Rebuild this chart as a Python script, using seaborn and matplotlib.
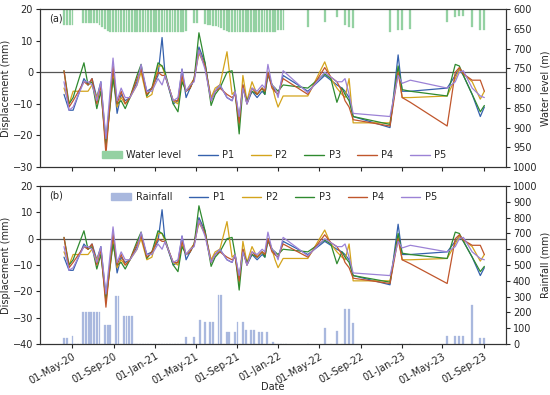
import numpy as np
import pandas as pd
import matplotlib
matplotlib.use("Agg")
import matplotlib.pyplot as plt
import matplotlib.dates as mdates
from matplotlib.lines import Line2D
from matplotlib.patches import Patch
import seaborn as sns

nan = np.nan

# sparse epochs after Jan 2022 (shared by bars and lines)
sparse_dates = ["2022-03-29", "2022-05-18", "2022-06-05", "2022-06-23", "2022-07-08",
                "2022-07-17", "2022-07-29", "2022-08-10", "2022-11-27", "2022-12-21",
                "2023-01-02", "2023-01-26", "2023-05-15", "2023-06-08", "2023-06-20",
                "2023-07-02", "2023-07-28", "2023-08-21", "2023-09-02"]

# displacement epochs
disp_dates = ["2020-04-07", "2020-04-22", "2020-05-04", "2020-06-05", "2020-06-17",
              "2020-06-29", "2020-07-13", "2020-07-25", "2020-08-09", "2020-08-30",
              "2020-09-11", "2020-09-23", "2020-10-05", "2020-10-19", "2020-11-09",
              "2020-11-21", "2020-12-08", "2020-12-23", "2021-01-10", "2021-01-22",
              "2021-01-31", "2021-02-24", "2021-03-10", "2021-03-22", "2021-04-03",
              "2021-04-15", "2021-04-27", "2021-05-11", "2021-05-29", "2021-06-16",
              "2021-06-28", "2021-07-12", "2021-08-02", "2021-08-17", "2021-08-26",
              "2021-09-07", "2021-09-18", "2021-09-30", "2021-10-15", "2021-10-30",
              "2021-11-14", "2021-11-22", "2021-12-01", "2021-12-13", "2021-12-22",
              "2021-12-31", "2022-01-15"] + sparse_dates

p1 = [-7, -12, -12, -2, -4, -2, -8, -3, -22, 0, -13, -7, -9, -8, -3, 1, -6, -5, -1, 11,
      -1, -10, -9, 1, -8, -5, -2, 8, 3, -9, -6, -4, -8, -9, -6, -15, -4, -10, -6, -8,
      -6, -7, -1, -4, -6, -7, -1,
      -6, -1, -2.5, -4, -5, -6, -8, -14, -17.5, 5.5, -6, -6, -5, -1, 1, -1, -7, -14, -11]
p2 = [-5, -10, -6, -6, -6, -4, -8, -4, -24, -1, -11, -8, -10, -8, -4, 0, -8, -7, 2, 2,
      -1, -9, -10, -2, -6, -4, -2, 6, 2, -8, -5, -4, 6.5, -7, -6, -17, -1, -9, -3, -7,
      -5, -6, 0, -4, -8, -11, -7.5,
      -7.5, 3.3, -2, -5, -7, -8, -2, -16, -16, 1, -8, -8, -7.5, -2, 1, -0.5, -3, -8.5, -6]
p3 = [0.5, -10, -8, 3, -4, -3, -11.5, -6, -23, -2, -10, -9, -11.5, -8, -1, 2.5, -7.5, -5, 3, 2,
      0, -10, -12.5, -3, -6, -5, -2, 12.5, 3, -10.5, -7, -5, 0, 0.5, -6, -19.5, -5, -9, -6, -7,
      -5, -7, 0, -4, -5, -6, -4,
      -5, -0.5, -2, -9.5, -5, -7, -9, -14, -16.5, 2, -5.5, -6, -7.5, 2.5, 2, -1, -7, -12.5, -10.5]
p4 = [0.5, -11, -9, -3, -4, -2, -10, -4, -26, 2, -10, -6, -10, -8, -2, 1, -7, -5, 0, -1,
      -1, -9, -9, -1, -6, -5, -2, 7, 2, -9, -6, -5, -7, -8, -7, -16, -4, -10, -5, -7,
      -5, -6, 0, -5, -6, -7, -2,
      -7, 1.5, -1.5, -3, -6, -9, -11, -15, -17, 0, -8, -9.5, -17, 0, 1.5, -0.5, -2.5, -2.5, -6]
p5 = [-3, -12, -11, -3, -3, -4, -9, -3, -21, 4.5, -9, -5, -8, -8, -4, 2.5, -6, -6, -2, -4,
      -1, -9, -8, 1, -6, -4, -3, 7, 1, -9, -6, -4, -8, -9, -6, -14, -5, -10, -5, -6,
      -4, -5, 2.5, -4, -5, -8, 0.5,
      -6.5, 0, -1.5, -3, -3, -2, -7, -13, -14, -1, -3.5, -2.5, -5, -3, 0, 0.5, -5, -7.5, -8]

# dense 8-day acquisition grid Apr 2020 - Jan 2022
dense_start = "2020-04-08"
dense_count = 83

water_level = [640, 640, 640, 640, nan, nan, nan, 636, 636, 636,
               636, 636, 636, 640, 645, 650, 655, 657, 657, 657,
               657, 657, 657, 657, 657, 657, 657, 657, 657, 657,
               657, 657, 657, 657, 657, 657, 657, 657, 657, 657,
               657, 657, 657, 657, 657, 655, nan, nan, 636, 636,
               nan, nan, 638, 640, 641, 642, 643, 646, 649, 652,
               655, 657, 657, 657, 657, 657, 657, 657, 657, 657,
               657, 657, 657, 657, 657, 657, 657, 657, 657, 653,
               653, 653, nan,
               645, 632, nan, 621, nan, 640, 645, 647, 657, 653,
               653, 651, 632, 619, 617, 617, 645, 653, 653]

rainfall = [40, 40, 0, 53, 0, 0, 0, 205, 205, 205,
            205, 205, 205, 205, 0, 118, 118, 118, 0, 304,
            304, 0, 179, 179, 179, 179, 0, 0, 0, 0,
            0, 0, 0, 0, 0, 0, 0, 0, 0, 0,
            0, 0, 0, 0, 0, 42, 0, 0, 42, 0,
            154, 0, 141, 0, 141, 141, 0, 310, 310, 0,
            74, 74, 0, 74, 137, 0, 137, 89, 0, 89,
            89, 0, 74, 74, 0, 74, 0, 15, 0, 0,
            0, 0, 0,
            0, 100, 0, 85, 0, 219, 219, 135, 0, 0,
            0, 0, 50, 52, 52, 52, 246, 40, 40]

points = ["P1", "P2", "P3", "P4", "P5"]
colors = {"P1": "#3561ad", "P2": "#d4a41c", "P3": "#2f8a2f", "P4": "#c0562c", "P5": "#9c82d6"}
water_color = "#94d1a2"
rain_color = "#a9b8de"

bar_dates = list(pd.date_range(dense_start, periods=dense_count, freq="8D")) + list(pd.to_datetime(sparse_dates))
bars = pd.DataFrame({"date": bar_dates, "water": water_level, "rain": rainfall})

disp = pd.DataFrame({"date": pd.to_datetime(disp_dates), "P1": p1, "P2": p2, "P3": p3, "P4": p4, "P5": p5})
disp_long = disp.melt(id_vars="date", var_name="point", value_name="disp")

sns.set_theme(style="ticks")
plt.rcParams["font.family"] = ["DejaVu Sans"]
fs = 7
plt.rcParams.update({"xtick.labelsize": fs, "ytick.labelsize": fs, "axes.labelsize": fs,
                     "axes.edgecolor": "#333333", "axes.linewidth": 0.8,
                     "xtick.major.size": 3, "ytick.major.size": 3,
                     "xtick.major.width": 0.8, "ytick.major.width": 0.8,
                     "xtick.major.pad": 2, "ytick.major.pad": 2})

fig, (ax_a, ax_b) = plt.subplots(2, 1, sharex=True, figsize=(5.5, 3.95), dpi=100)
fig.subplots_adjust(left=0.0727, right=0.92, top=0.977, bottom=0.129, hspace=0.12)

line_handles = [Line2D([], [], color=colors[p], lw=1.0) for p in points]

for ax, tag in [(ax_a, "a"), (ax_b, "b")]:
    twin = ax.twinx()
    if tag == "a":
        twin.bar(bars["date"], bars["water"] - 600, bottom=600, width=5.5, color=water_color,
                 edgecolor=water_color, linewidth=0.2)
        twin.set_ylim(1000, 600)
        twin.set_yticks(np.arange(600, 1001, 50))
        twin.set_ylabel("Water level (m)", fontsize=fs, labelpad=2)
    else:
        twin.bar(bars["date"], bars["rain"], width=5.5, color=rain_color,
                 edgecolor=rain_color, linewidth=0.2)
        twin.set_ylim(0, 1000)
        twin.set_yticks(np.arange(0, 1001, 100))
        twin.set_ylabel("Rainfall (mm)", fontsize=fs, labelpad=2)
    twin.tick_params(labelsize=fs)
    ax.set_zorder(twin.get_zorder() + 1)
    ax.patch.set_visible(False)

    sns.lineplot(data=disp_long, x="date", y="disp", hue="point", palette=colors,
                 lw=0.9, errorbar=None, legend=False, ax=ax)
    ax.axhline(0, color="#555555", lw=0.9, zorder=0)
    ax.set_ylabel("Displacement (mm)", fontsize=fs, labelpad=1)
    ax.set_xlabel("")
    ax.text(0.02, 0.94, f"({tag})", transform=ax.transAxes, fontsize=fs, va="center")

    if tag == "a":
        ax.set_ylim(-30, 20)
        ax.set_yticks(np.arange(-30, 21, 10))
        handles = [Patch(color=water_color)] + line_handles
        labels = ["Water level"] + points
        ax.legend(handles, labels, loc="center", bbox_to_anchor=(0.503, 0.075), ncol=6,
                  frameon=False, fontsize=fs, handlelength=2.0, handletextpad=0.5,
                  columnspacing=1.7)
    else:
        ax.set_ylim(-40, 20)
        ax.set_yticks(np.arange(-40, 21, 10))
        handles = [Patch(color=rain_color)] + line_handles
        labels = ["Rainfall"] + points
        ax.legend(handles, labels, loc="center", bbox_to_anchor=(0.503, 0.93), ncol=6,
                  frameon=False, fontsize=fs, handlelength=2.0, handletextpad=0.5,
                  columnspacing=1.7)

ax_b.set_xlim(pd.Timestamp("2020-01-27"), pd.Timestamp("2023-11-05"))
ax_b.xaxis.set_major_locator(mdates.MonthLocator(bymonth=[1, 5, 9], bymonthday=1))
ax_b.xaxis.set_major_formatter(mdates.DateFormatter("%d-%b-%y"))
plt.setp(ax_b.get_xticklabels(), rotation=30, ha="right", rotation_mode="anchor")
ax_b.set_xlabel("Date", fontsize=fs, va="center")
ax_b.xaxis.set_label_coords(0.5, -0.27)

fig.savefig("out.png", dpi=100)
